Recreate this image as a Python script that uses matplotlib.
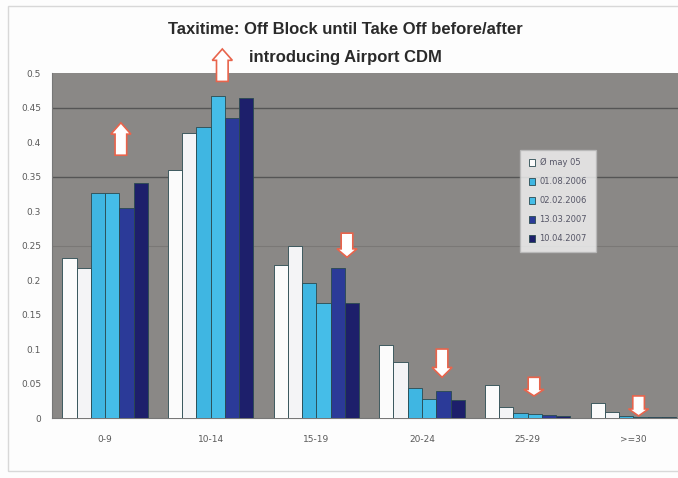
import matplotlib
matplotlib.use("Agg")
import matplotlib.pyplot as plt
import numpy as np
from matplotlib.patches import FancyArrow, Rectangle

categories = ["0-9", "10-14", "15-19", "20-24", "25-29", ">=30"]
series_labels = ["\u00d8 may 05", None, "01.08.2006", "02.02.2006", "13.03.2007", "10.04.2007"]
values = [
    [0.232, 0.359, 0.222, 0.106, 0.048, 0.022],   # white 1
    [0.217, 0.413, 0.249, 0.081, 0.016, 0.009],   # white 2
    [0.326, 0.422, 0.196, 0.043, 0.007, 0.003],   # light blue 1
    [0.326, 0.467, 0.167, 0.028, 0.006, 0.002],   # light blue 2
    [0.304, 0.435, 0.217, 0.039, 0.004, 0.002],   # blue
    [0.341, 0.464, 0.167, 0.026, 0.003, 0.001],   # navy
]
colors = ["#fbfbfb", "#f4f4f6", "#3fb6e2", "#45bde8", "#2b3a98", "#1d1f6b"]
yticks = [0, 0.05, 0.1, 0.15, 0.2, 0.25, 0.3, 0.35, 0.4, 0.45, 0.5]
ytick_labels = ["0", "0.05", "0.1", "0.15", "0.2", "0.25", "0.3", "0.35", "0.4", "0.45", "0.5"]

# arrows: direction (+1 up, -1 down), x offset from group centre, start y, end y
arrow_dir = [1, 1, -1, -1, -1, -1]
arrow_dx = [0.15, 0.11, 0.29, 0.19, 0.06, 0.05]
arrow_y0 = [0.381, 0.488, 0.268, 0.100, 0.059, 0.032]
arrow_y1 = [0.428, 0.535, 0.233, 0.059, 0.032, 0.003]

fig = plt.figure(figsize=(6.78, 4.78), dpi=100)
fig.patch.set_facecolor("#fdfdfd")
fig.add_artist(Rectangle((0.012, 0.015), 0.99, 0.972, transform=fig.transFigure,
                         fill=False, ec="#d8d8d8", lw=1.0))

ax = fig.add_axes([0.077, 0.1255, 0.935, 0.7215])
ax.set_facecolor("#8a8886")

n = len(values)
bw = 0.135
x = np.arange(len(categories))
for i, (vals, col) in enumerate(zip(values, colors)):
    off = (i - (n - 1) / 2) * bw
    ax.bar(x + off, vals, width=bw, color=col, edgecolor="#2a4a50", linewidth=0.6,
           label=series_labels[i] if series_labels[i] else "_nolegend_", zorder=3)

for gy in [0.45, 0.35]:
    ax.axhline(gy, color="#555555", lw=1.0, zorder=1)
ax.axhline(0.25, color="#7a7876", lw=0.8, zorder=1)

for xi, d, dx, y0, y1 in zip(x, arrow_dir, arrow_dx, arrow_y0, arrow_y1):
    length = y1 - y0
    hl = abs(length) * 0.35
    arr = FancyArrow(xi + dx, y0, 0, length, width=0.11, head_width=0.19,
                     head_length=hl, length_includes_head=True,
                     fc="white", ec="#e8644c", lw=1.2, zorder=5, clip_on=False)
    ax.add_patch(arr)

ax.set_xlim(-0.5, 5.5)
ax.set_ylim(0, 0.5)
ax.set_xticks(x)
ax.set_xticklabels(categories)
ax.set_yticks(yticks)
ax.set_yticklabels(ytick_labels)
ax.tick_params(axis="both", length=0, labelsize=6.5, colors="#5a5a5a", pad=8)
ax.tick_params(axis="x", pad=12)
for s in ["top", "right"]:
    ax.spines[s].set_visible(False)
ax.spines["left"].set_color("#777777")
ax.spines["bottom"].set_color("#777777")

leg = ax.legend(loc="upper left", bbox_to_anchor=(0.732, 0.79), fontsize=6,
                frameon=True, fancybox=False, handlelength=0.8, handleheight=0.8,
                labelspacing=1.2, borderpad=1.0, handletextpad=0.5)
leg.get_frame().set_facecolor("#f6f6f6")
leg.get_frame().set_edgecolor("#bbbbbb")
for t in leg.get_texts():
    t.set_color("#555566")

title_font = ["Liberation Sans", "DejaVu Sans"]
fig.text(0.51, 0.938, "Taxitime: Off Block until Take Off before/after",
         ha="center", va="center", fontsize=12, fontweight="bold", color="#2a2a2a",
         family=title_font)
fig.text(0.51, 0.879, "introducing Airport CDM",
         ha="center", va="center", fontsize=12, fontweight="bold", color="#2a2a2a",
         family=title_font)

fig.savefig("out.png", dpi=100, facecolor=fig.get_facecolor())
